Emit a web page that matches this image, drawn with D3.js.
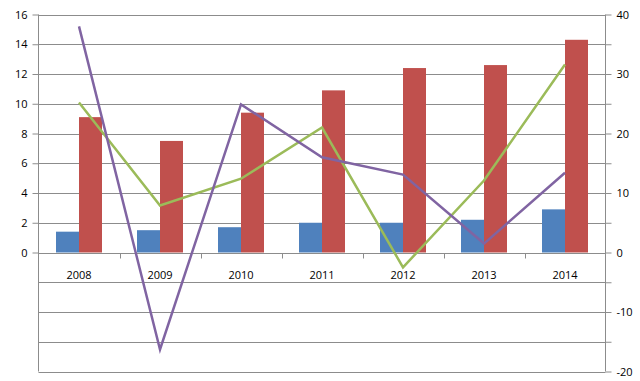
<!DOCTYPE html>
<html>
<head>
<meta charset="utf-8">
<script src="https://cdn.jsdelivr.net/npm/d3@7"></script>
<style>
  body { margin: 0; background: #fff; }
  svg text { font-family: "Open Sans", "DejaVu Sans", sans-serif; font-size: 11px; fill: #000; }
</style>
</head>
<body>
<svg width="640" height="381"></svg>
<script>
var years = ["2008", "2009", "2010", "2011", "2012", "2013", "2014"];
var blueVals = [1.4, 1.5, 1.7, 2.0, 2.0, 2.2, 2.9];
var redVals = [9.1, 7.5, 9.4, 10.9, 12.4, 12.6, 14.3];
var purpleVals = [38.0, -16.3, 24.9, 16.0, 13.1, 1.5, 13.4];
var greenVals = [25.2, 7.9, 12.4, 21.0, -2.5, 12.1, 31.6];
var leftTicks = [0, 2, 4, 6, 8, 10, 12, 14, 16];
var rightTicks = [-20, -10, 0, 10, 20, 30, 40];

var svg = d3.select("svg");
var plotL = 38.5, plotR = 605.5, plotT = 14.5, plotB = 371.5;
var grid = "#8c8c8c";

var x = d3.scaleBand().domain(years).range([plotL, plotR]);
var yL = d3.scaleLinear().domain([-8, 16]).range([plotB, plotT]);
var yR = d3.scaleLinear().domain([-20, 40]).range([plotB, plotT]);

// gridlines every 2 on the left scale
svg.append("g").selectAll("line")
  .data(d3.range(-8, 17, 2))
  .enter().append("line")
  .attr("x1", plotL).attr("x2", plotR)
  .attr("y1", d => Math.round(yL(d)) + 0.5)
  .attr("y2", d => Math.round(yL(d)) + 0.5)
  .attr("stroke", grid).attr("stroke-width", 1);

// bars
var bw = 23;
var bars = svg.append("g");
bars.selectAll(".blue").data(blueVals).enter().append("rect")
  .attr("x", (d, i) => x(years[i]) + x.bandwidth() / 2 - bw)
  .attr("width", bw)
  .attr("y", d => yL(d))
  .attr("height", d => yL(0) - yL(d))
  .attr("fill", "#4F81BD");
bars.selectAll(".red").data(redVals).enter().append("rect")
  .attr("x", (d, i) => x(years[i]) + x.bandwidth() / 2)
  .attr("width", bw)
  .attr("y", d => yL(d))
  .attr("height", d => yL(0) - yL(d))
  .attr("fill", "#C0504D");

// left axis
var axL = svg.append("g").attr("transform", "translate(" + plotL + ",0)")
  .call(d3.axisLeft(yL).tickValues(leftTicks).tickSize(6).tickPadding(5).tickFormat(d3.format("d")));
axL.select(".domain").attr("stroke", grid).attr("d", "M0," + plotT + "V" + plotB);
axL.selectAll(".tick line").attr("stroke", grid);

// right axis (ticks every 5, labels every 10)
var axR = svg.append("g").attr("transform", "translate(" + plotR + ",0)")
  .call(d3.axisRight(yR).tickValues(d3.range(-20, 41, 5)).tickSize(6).tickPadding(5)
    .tickFormat(d => rightTicks.indexOf(d) >= 0 ? d : ""));
axR.select(".domain").attr("stroke", grid).attr("d", "M0," + plotT + "V" + plotB);
axR.selectAll(".tick line").attr("stroke", grid);

// category axis at zero
var zeroY = Math.round(yL(0)) + 0.5;
var axX = svg.append("g").attr("transform", "translate(0," + zeroY + ")");
axX.append("line").attr("x1", plotL).attr("x2", plotR).attr("stroke", grid);
axX.selectAll(".tk").data(years.slice(1)).enter().append("line")
  .attr("x1", d => Math.round(x(d)) + 0.5).attr("x2", d => Math.round(x(d)) + 0.5)
  .attr("y1", 0).attr("y2", 5).attr("stroke", grid);
axX.selectAll("text").data(years).enter().append("text")
  .attr("x", d => x(d) + x.bandwidth() / 2)
  .attr("y", 25)
  .attr("text-anchor", "middle")
  .text(d => d);

// lines on right axis
var line = d3.line()
  .x((d, i) => x(years[i]) + x.bandwidth() / 2)
  .y(d => yR(d));
svg.append("path").datum(greenVals).attr("d", line)
  .attr("fill", "none").attr("stroke", "#9BBB59").attr("stroke-width", 2.5);
svg.append("path").datum(purpleVals).attr("d", line)
  .attr("fill", "none").attr("stroke", "#8064A2").attr("stroke-width", 2.5);
</script>
</body>
</html>
